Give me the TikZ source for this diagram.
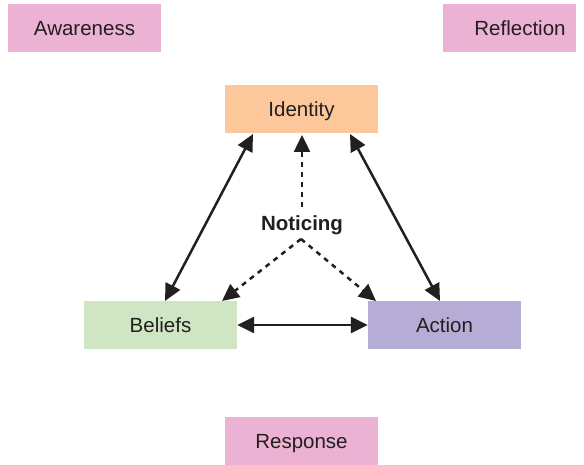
\documentclass[tikz,border=0pt]{standalone}
\usepackage{fontspec}
\setmainfont{Liberation Sans}
\usetikzlibrary{arrows.meta}
\definecolor{pinkbox}{HTML}{EBB2D3}
\definecolor{peachbox}{HTML}{FCC89B}
\definecolor{greenbox}{HTML}{CFE5C3}
\definecolor{lavbox}{HTML}{B5ADD5}
\definecolor{ink}{HTML}{231F20}
\begin{document}
\begin{tikzpicture}[x=1pt,y=-1pt,
  box/.style={rectangle, minimum width=153pt, minimum height=48pt, inner sep=0pt, text=ink,
    text height=14.7pt, text depth=0pt, font=\fontsize{20.5}{24}\selectfont},
  link/.style={draw=ink, line width=2.5pt, {Triangle[length=17pt,width=16pt]}-{Triangle[length=17pt,width=16pt]}},
  dlink/.style={draw=ink, line width=2.5pt, dash pattern=on 5pt off 5pt, -{Triangle[length=17pt,width=16pt]}}
]
\useasboundingbox (0,0) rectangle (584,465);
\node[box, fill=pinkbox] (aware) at (84.5,28.5) {Awareness};
\node[box, fill=pinkbox, minimum width=133pt] (refl) at (509.5,28.5) {\hspace*{21pt}Reflection};
\node[box, fill=peachbox] (ident) at (301.5,109) {Identity};
\node[box, fill=greenbox] (bel) at (160.5,325) {Beliefs};
\node[box, fill=lavbox] (act) at (444.5,325) {Action};
\node[box, fill=pinkbox] (resp) at (301.5,441) {Response};
\node[text=ink, inner sep=0pt, text height=14.7pt, text depth=0pt, font=\bfseries\fontsize{20.5}{24}\selectfont] (notice) at (302,223) {Noticing};
\coordinate (nt) at (302,207);
\coordinate (nb) at (301,239);
\coordinate (itl) at (253,134);
\coordinate (itr) at (350,134);
\coordinate (itm) at (302,135);
\coordinate (bt) at (165,301);
\coordinate (at) at (440,301);
\coordinate (btd) at (222,301);
\coordinate (atd) at (376,301);
\draw[link] (itl) -- (bt);
\draw[link] (itr) -- (at);
\draw[link] (bel.east) -- (act.west);
\draw[dlink] (nt) -- (itm);
\draw[dlink] (nb) -- (btd);
\draw[dlink] (nb) -- (atd);
\end{tikzpicture}
\end{document}
